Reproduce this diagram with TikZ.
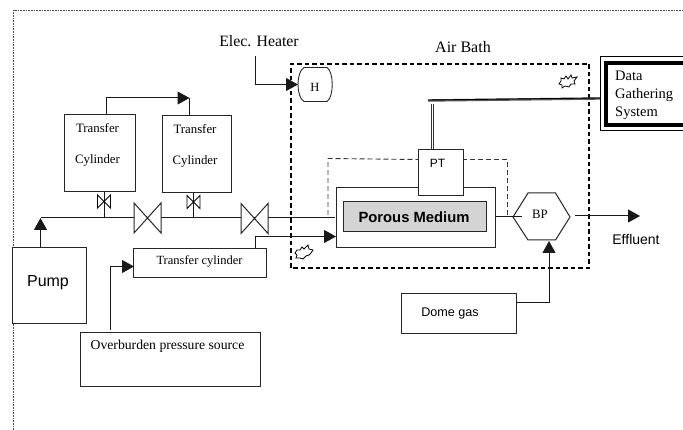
\documentclass[tikz,border=0pt]{standalone}
\usepackage{fontspec}
\setmainfont{Liberation Serif}
\newfontfamily\arialf{Liberation Sans}
\usetikzlibrary{arrows.meta,shapes.geometric}
\tikzset{
  x=1pt,y=-1pt,
  box/.style={draw=black!85,line width=1pt,fill=white,inner sep=0pt,anchor=north west},
  serif/.style={font=\fontsize{12.8}{14}\selectfont,inner sep=0pt},
  flow/.style={line width=1pt,black!90},
  tip/.style={-{Triangle[length=12pt,width=13pt]}},
  bathline/.style={line width=1.4pt,dash pattern=on 4.5pt off 3pt},
  thindash/.style={line width=0.9pt,black!80,dash pattern=on 5pt off 3pt},
  valvebig/.style={line width=1pt,black!85,fill=white},
  burst/.style={line width=0.8pt,fill=white},
}
\newcommand{\bigvalve}[2]{\draw[valvebig] (#1-13.5,#2-15) -- (#1+13.5,#2+15) -- (#1+13.5,#2-15) -- (#1-13.5,#2+15) -- cycle;}
\newcommand{\smallvalve}[2]{\draw[line width=0.9pt,fill=white] (#1-6.5,#2-6.5) -- (#1+6.5,#2+6.5) -- (#1+6.5,#2-6.5) -- (#1-6.5,#2+6.5) -- cycle;}
\begin{document}
\begin{tikzpicture}
\useasboundingbox (0,0) rectangle (683,430);
\fill[white] (0,0) rectangle (683,430);
% outer dotted frame
\draw[line width=0.7pt,black!70,dash pattern=on 0.8pt off 0.8pt] (13.5,430) -- (13.5,10.5) -- (683,10.5);
% air bath
\draw[bathline] (291,268) rectangle (589,64);
\node[font=\fontsize{16}{18}\selectfont,inner sep=0pt] (ab) at (463,47) {Air Bath};
% pipes
\coordinate (mainL) at (40.5,218);
\coordinate (mainR) at (335,218);
\draw[flow] (mainL) -- (mainR);
\draw[flow] (104,191) -- (104,218);
\draw[flow] (193.5,192) -- (193.5,218);
\bigvalve{147.5}{218}
\bigvalve{254.5}{218.5}
\smallvalve{104}{201.5}
\smallvalve{193.5}{202}
% transfer cylinders
\node[box,minimum width=71pt,minimum height=77pt] (tc1) at (64,114.5) {};
\node[box,minimum width=69pt,minimum height=77pt] (tc2) at (161.5,115.5) {};
\node[serif] at (97.5,128.5) {Transfer};
\node[serif] at (97.5,160) {Cylinder};
\node[serif] at (195,129.5) {Transfer};
\node[serif] at (195,161) {Cylinder};
\coordinate (a1) at (106,98);
\coordinate (a2) at (189.5,98);
\draw[flow,tip] (106,114.5) -- (a1) -- (a2);
\draw[flow] (a2) -- (189.5,115.5);
% heater
\node[font=\fontsize{15.8}{18}\selectfont,inner sep=0pt] (eh) at (259,41) {Elec. Heater};
\draw[line width=0.9pt,black!85,fill=white] (304,67.5) -- (327,67.5) .. controls (334,72) and (334,97) .. (327,101.5) -- (304,101.5) .. controls (296,97) and (296,72) .. (304,67.5) -- cycle;
\node[font=\fontsize{12.5}{14}\selectfont,inner sep=0pt] (hh) at (315,87) {H};
\draw[flow,tip] (255,56) -- (255,84.5) -- (298,84.5);
% pump
\node[box,minimum width=74pt,minimum height=76pt] (pump) at (11.5,247) {};
\node[font=\arialf\fontsize{16}{18}\selectfont,inner sep=0pt] at (48,283) {Pump};
\draw[flow,tip] (40.5,247) -- (mainL);
% lower transfer cylinder
\node[box,minimum width=133pt,minimum height=29pt] (tc3) at (133,248) {};
\node[font=\fontsize{12.5}{14}\selectfont,inner sep=0pt] at (199.5,261.5) {Transfer cylinder};
% overburden
\node[box,minimum width=180pt,minimum height=54pt] (ob) at (79.5,332) {};
\node[font=\fontsize{13.7}{15}\selectfont,inner sep=0pt] at (167.5,346.5) {Overburden pressure source};
\draw[flow,tip] (110.5,330) -- (110.5,266.5) -- (134,266.5);
% medium
\node[box,minimum width=159pt,minimum height=60pt] (med) at (336,187.5) {};
\draw[thindash] (328,215) -- (328,158.5) -- (418,159.5);
\draw[thindash] (462,159.5) -- (507.5,159.5) -- (507.5,217);
\node[box,draw=black!85,fill=black!17,minimum width=142.5pt,minimum height=30pt] (por) at (343,201.5) {};
\node[font=\arialf\bfseries\fontsize{14.8}{16}\selectfont,inner sep=0pt] at (414,217.5) {Porous Medium};
\node[box,minimum width=45pt,minimum height=46pt] (pt) at (418,149) {};
\node[font=\arialf\fontsize{12}{14}\selectfont,inner sep=0pt] at (437.5,163.5) {PT};
\draw[flow,tip] (255,248) -- (255,236.5) -- (336,236.5);
% BP
\draw[line width=1pt,black!85,fill=white] (513,217) -- (528,193) -- (555.5,193) -- (570,217) -- (555.5,240) -- (528,240) -- cycle;
\node[serif] at (540,214.5) {BP};
\draw[flow] (495,217) -- (522,217);
\draw[flow,tip] (575,216) -- (640,216);
\node[font=\arialf\fontsize{14}{16}\selectfont,inner sep=0pt] at (636,239) {Effluent};
% dome gas
\node[box,minimum width=115pt,minimum height=40pt] (dome) at (401,293) {};
\node[font=\arialf\fontsize{12.6}{14}\selectfont,inner sep=0pt] at (450,313) {Dome gas};
\draw[flow,tip] (516,303) -- (549,303) -- (549,241);
% data system (runs off the right edge)
\draw[line width=1pt,fill=white] (720,57) -- (600.5,57) -- (600.5,131) -- (720,131);
\draw[line width=4pt] (720,63.5) -- (605.5,63.5) -- (605.5,125) -- (720,125);
\node[font=\fontsize{14.5}{16}\selectfont,inner sep=0pt,anchor=west] (dg) at (615,76) {Data};
\node[font=\fontsize{14.5}{16}\selectfont,inner sep=0pt,anchor=west] at (615,95) {Gathering};
\node[font=\fontsize{14.5}{16}\selectfont,inner sep=0pt,anchor=west] at (615,113) {System};
% signal lines
\draw[line width=2.6pt,black!80] (432.5,149) -- (432.5,104);
\draw[line width=0.8pt,white] (432.5,149) -- (432.5,104);
\draw[line width=2.4pt,black!65] (428,100.5) -- (600,98.5);
\draw[line width=0.9pt,black] (428,100) -- (600,98);
% bursts
\draw[burst] (561,78) -- (564,79) -- (566,76) -- (568,79) -- (571,75) -- (572,78) -- (577,77) -- (574,81) -- (575,84) -- (571,84) -- (569,87) -- (565,86) -- (562,88) -- (562,85) -- (559,84) -- (561,81) -- cycle;
\draw[burst] (297,250) -- (300,250) -- (302,247) -- (304,249) -- (308,245) -- (309,249) -- (313,250) -- (311,253) -- (309,255) -- (306,256) -- (303,259) -- (300,258) -- (296,258) -- (297,255) -- (295,253) -- cycle;
\end{tikzpicture}
\end{document}
